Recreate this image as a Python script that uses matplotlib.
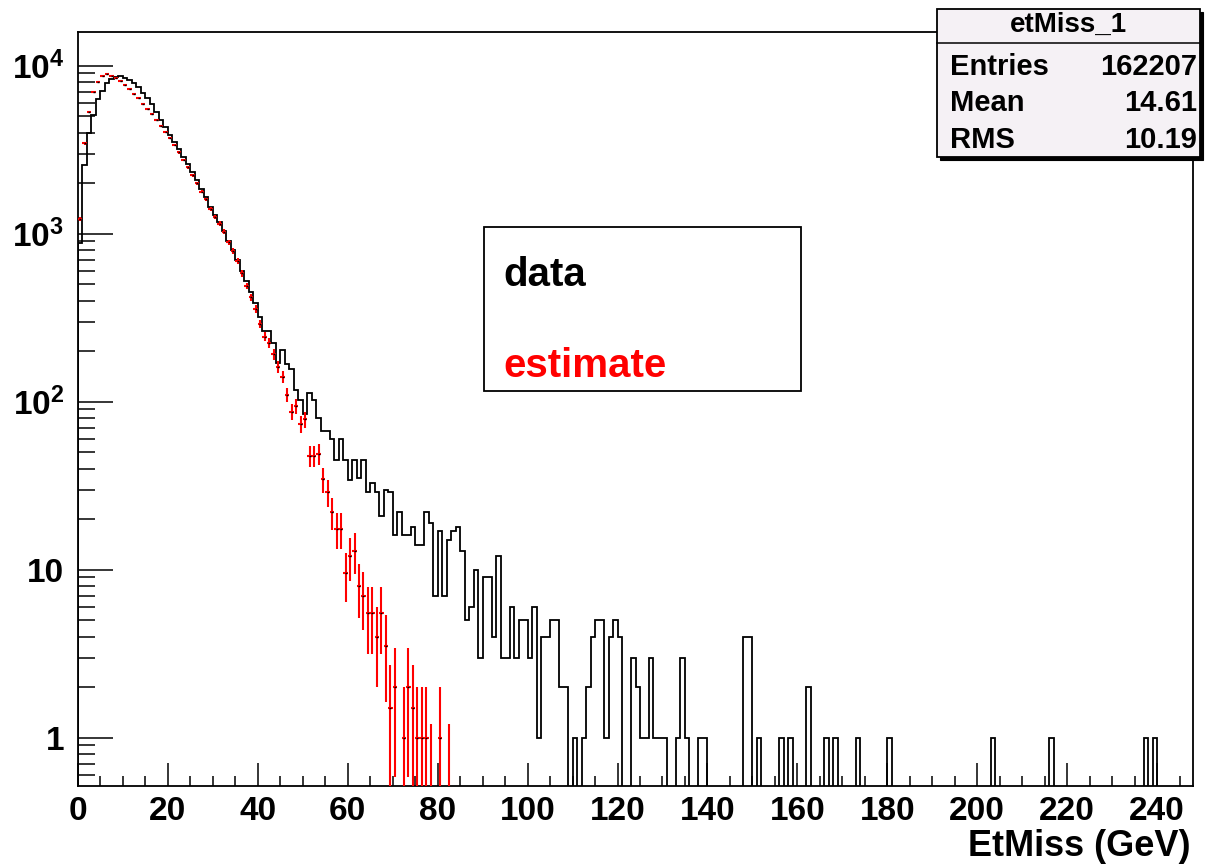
import numpy as np
import matplotlib
matplotlib.use('Agg')
import matplotlib.pyplot as plt
from matplotlib.ticker import LogLocator, MultipleLocator, NullFormatter, FuncFormatter
from matplotlib.patches import Rectangle
from matplotlib.lines import Line2D

plt.rcParams['font.family'] = ['Liberation Sans', 'DejaVu Sans']
plt.rcParams['font.weight'] = 'bold'
plt.rcParams['mathtext.fontset'] = 'custom'
plt.rcParams['mathtext.rm'] = 'Liberation Sans:bold'
plt.rcParams['mathtext.bf'] = 'Liberation Sans:bold'
plt.rcParams['mathtext.it'] = 'Liberation Sans:bold'

# ---------------- data (1 GeV bins, 0..248 GeV) ----------------
bin_edges = list(range(0, 249))

data_counts = [
    880, 2570, 3960, 5090, 6310, 7100, 7860, 8370, 8600, 8650,   # 0-9
    8500, 8220, 7860, 7440, 6900, 6400, 5890, 5320, 4750, 4300,  # 10-19
    3850, 3500, 3200, 2880, 2600, 2330, 2080, 1850, 1650, 1450,  # 20-29
    1290, 1170, 1040, 910, 800, 700, 600, 520, 450, 385,         # 30-39
    320, 262, 262, 223, 169, 203, 167, 156, 117, 102,            # 40-49
    84, 112, 102, 80, 67, 67, 60, 45, 60, 45,                    # 50-59
    34, 45, 35, 45, 29, 33, 29, 21, 30, 29,                      # 60-69
    16, 22, 16, 16, 18, 14, 14, 22, 19, 7,                       # 70-79
    17, 7, 15, 17, 18, 13, 5, 6, 10, 3,                          # 80-89
    9, 9, 4, 12, 3, 3, 6, 3, 5, 5,                               # 90-99
    3, 6, 1, 4, 4, 5, 5, 2, 2, 0,                                # 100-109
    1, 0, 1, 2, 4, 5, 5, 1, 4, 5,                                # 110-119
    4, 0, 0, 3, 2, 1, 1, 3, 1, 1,                                # 120-129
    1, 0, 0, 1, 3, 1, 0, 0, 1, 1,                                # 130-139
    0, 0, 0, 0, 0, 0, 0, 0, 4, 4,                                # 140-149
    0, 1, 0, 0, 0, 0, 1, 0, 1, 0,                                # 150-159
    0, 0, 2, 0, 0, 0, 1, 0, 1, 0,                                # 160-169
    0, 0, 0, 1, 0, 0, 0, 0, 0, 0,                                # 170-179
    1, 0, 0, 0, 0, 0, 0, 0, 0, 0,                                # 180-189
    0, 0, 0, 0, 0, 0, 0, 0, 0, 0,                                # 190-199
    0, 0, 0, 1, 0, 0, 0, 0, 0, 0,                                # 200-209
    0, 0, 0, 0, 0, 0, 1, 0, 0, 0,                                # 210-219
    0, 0, 0, 0, 0, 0, 0, 0, 0, 0,                                # 220-229
    0, 0, 0, 0, 0, 0, 0, 1, 0, 1,                                # 230-239
    0, 0, 0, 0, 0, 0, 0, 0,                                      # 240-247
]

estimate_values = [
    1220, 3450, 5320, 7000, 8040, 8690, 8920, 8700, 8450, 8100,  # 0-9
    7700, 7250, 6800, 6400, 5950, 5550, 5150, 4750, 4400, 4050,  # 10-19
    3700, 3380, 3050, 2750, 2480, 2230, 2000, 1780, 1600, 1400,  # 20-29
    1260, 1150, 1030, 890, 790, 690, 580, 490, 420, 355,         # 30-39
    290, 244, 225, 192, 161, 141, 110, 87, 94, 74,               # 40-49
    78.5, 47.5, 47.5, 49, 34.5, 29, 22, 17.5, 17.5, 9.5,         # 50-59
    12, 13, 8, 7, 5.5, 5.5, 4, 5.5, 3.5, 1.5,                    # 60-69
    2, 0, 1, 2, 1.5, 1, 1, 1, 0.5, 0,                            # 70-79
    1, 0, 0.5,                                                   # 80-82
]

stats_title = "etMiss_1"
stats_labels = ["Entries", "Mean", "RMS"]
stats_values = ["162207", "14.61", "10.19"]
x_label = "EtMiss (GeV)"
legend_labels = ["data", "estimate"]

# ---------------- figure ----------------
W, H = 1207, 866
fig = plt.figure(figsize=(W / 100, H / 100), dpi=100)
fig.patch.set_facecolor('white')

def fx(px):
    return px / W

def fy(py):
    return 1 - py / H

ax = fig.add_axes([fx(78), fy(786), fx(1193) - fx(78), fy(32) - fy(786)])

edges = np.array(bin_edges, dtype=float)
counts = np.array(data_counts, dtype=float)
floor = 1e-3
ax.stairs(np.where(counts > 0, counts, floor), edges, baseline=floor,
          color='black', lw=1.3, zorder=2)

est = np.array(estimate_values, dtype=float)
centers = 0.5 * (edges[:-1] + edges[1:])[:len(est)]
mask = est > 0
xc = centers[mask]
yv = est[mask]
err = np.sqrt(yv)
lower = np.minimum(err, yv - floor)
ax.errorbar(xc, yv, xerr=0.5, yerr=[lower, err], fmt='none', ecolor='red',
            elinewidth=1.5, capsize=0, zorder=3)
ax.plot(xc, yv, ls='none', marker='_', ms=2, mew=1.0, color='black', zorder=4)

ax.set_yscale('log')
ax.set_xlim(0, 248)
ax.set_ylim(0.516, 15870)

ax.xaxis.set_major_locator(MultipleLocator(20))
ax.xaxis.set_minor_locator(MultipleLocator(5))
ax.yaxis.set_major_locator(LogLocator(base=10, numticks=20))
ax.yaxis.set_minor_locator(LogLocator(base=10, subs=np.arange(2, 10), numticks=20))
ax.yaxis.set_minor_formatter(NullFormatter())

def yfmt(v, pos):
    if v <= 0:
        return ''
    e = int(round(np.log10(v)))
    if abs(v - 10 ** e) > 1e-6 * v:
        return ''
    if e == 0:
        return '1'
    if e == 1:
        return '10'
    return r'$10^{%d}$' % e

ax.yaxis.set_major_formatter(FuncFormatter(yfmt))

ax.tick_params(axis='x', which='major', direction='in', length=16.5, width=1.1,
               top=False, labelsize=24, pad=7)
ax.tick_params(axis='x', which='minor', direction='in', length=7.2, width=1.1, top=False)
ax.tick_params(axis='y', which='major', direction='in', length=25, width=1.1,
               right=False, labelsize=24, pad=10)
ax.tick_params(axis='y', which='minor', direction='in', length=12, width=1.1, right=False)
for lab in ax.get_xticklabels() + ax.get_yticklabels():
    lab.set_fontweight('bold')
for s in ax.spines.values():
    s.set_linewidth(1.3)

# x axis title
fig.text(fx(1190), fy(847), x_label, ha='right', va='center', fontsize=26,
         fontweight='bold')

# legend box
fig.add_artist(Rectangle((fx(484), fy(391)), fx(801) - fx(484), fy(227) - fy(391),
                         transform=fig.transFigure, fc='white', ec='black', lw=1.3,
                         zorder=5))
fig.text(fx(503), fy(286), legend_labels[0], ha='left', va='baseline', fontsize=29,
         fontweight='bold', color='black', zorder=6)
fig.text(fx(503), fy(377), legend_labels[1], ha='left', va='baseline', fontsize=29,
         fontweight='bold', color='red', zorder=6)

# stats box with shadow
bx0, by0, bx1, by1 = 937, 9, 1200, 157
fig.add_artist(Rectangle((fx(bx0 + 3), fy(by1 + 3)), fx(bx1) - fx(bx0), fy(by0) - fy(by1),
                         transform=fig.transFigure, fc='black', ec='black', lw=0.8,
                         zorder=7))
fig.add_artist(Rectangle((fx(bx0), fy(by1)), fx(bx1) - fx(bx0), fy(by0) - fy(by1),
                         transform=fig.transFigure, fc='#f5f1f5', ec='black', lw=1.3,
                         zorder=8))
fig.add_artist(Line2D([fx(bx0), fx(bx1)], [fy(43), fy(43)], transform=fig.transFigure,
                      color='black', lw=1.1, zorder=9))
fig.text(fx(1068), fy(25), stats_title, ha='center', va='center', fontsize=20,
         fontweight='bold', zorder=10)
row_y = [67, 103, 140]
for lab, val, yy in zip(stats_labels, stats_values, row_y):
    fig.text(fx(950), fy(yy), lab, ha='left', va='center', fontsize=21,
             fontweight='bold', zorder=10)
    fig.text(fx(1197), fy(yy), val, ha='right', va='center', fontsize=21,
             fontweight='bold', zorder=10)

fig.savefig('out.png', dpi=100, facecolor='white')
